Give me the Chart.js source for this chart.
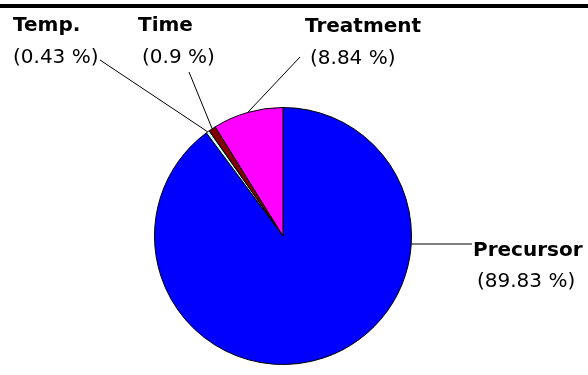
<!DOCTYPE html>
<html>
<head>
<meta charset="utf-8">
<script src="https://cdn.jsdelivr.net/npm/chart.js@4"></script>
<style>
  html, body { margin: 0; padding: 0; background: #fff; }
  #wrap { width: 588px; height: 375px; position: relative; }
</style>
</head>
<body>
<div id="wrap"><canvas id="canvas_pie" width="588" height="375"></canvas></div>
<script>
// slices in clockwise order starting at 12 o'clock
var categories = ['Precursor', 'Temp.', 'Time', 'Treatment'];
var shares = [89.83, 0.43, 0.9, 8.84];
var sliceColors = ['#0000ff', '#c8ffff', '#800000', '#ff00ff'];

// where each callout text sits: [x line1, x line2, baseline1, baseline2, leader start x, y, leader mode]
var callouts = {
    'Precursor': [473, 477, 256, 287, 472, 244, 'flat'],
    'Temp.':     [13, 13, 31, 63, 100, 60, 'mid'],
    'Time':      [138, 142, 31, 63, 189, 72, 'mid'],
    'Treatment': [305, 310, 32, 64, 300, 57, 'mid']
};

const calloutPlugin = {
    id: 'callouts',
    afterDraw(chart) {
        const c = chart.ctx;
        c.save();
        // thick rule along the top
        c.fillStyle = '#000';
        c.fillRect(0, 4, 588, 4);

        const meta = chart.getDatasetMeta(0);
        meta.data.forEach((arc, i) => {
            const name = categories[i];
            const co = callouts[name];
            const p = arc.getProps(['x', 'y', 'startAngle', 'endAngle', 'outerRadius'], true);
            let ex, ey;
            if (co[6] === 'flat') {
                // horizontal leader meeting the rim at the label's height
                ey = co[5];
                ex = p.x + Math.sqrt(Math.max(p.outerRadius * p.outerRadius - (ey - p.y) * (ey - p.y), 0));
            } else {
                const ang = (p.startAngle + p.endAngle) / 2;
                ex = p.x + Math.cos(ang) * p.outerRadius;
                ey = p.y + Math.sin(ang) * p.outerRadius;
            }

            c.strokeStyle = '#000';
            c.lineWidth = 1;
            c.beginPath();
            c.moveTo(co[4], co[5]);
            c.lineTo(ex, ey);
            c.stroke();

            c.fillStyle = '#000';
            c.textAlign = 'left';
            c.textBaseline = 'alphabetic';
            c.font = 'bold 20px "DejaVu Sans"';
            c.fillText(name, co[0], co[2]);
            c.font = '20px "DejaVu Sans"';
            c.fillText('(' + shares[i] + ' %)', co[1], co[3]);
        });
        c.restore();
    }
};

const ctx = document.getElementById('canvas_pie').getContext('2d');
var chart1 = new Chart(ctx, {
    type: 'pie',
    data: {
        labels: categories,
        datasets: [{
            data: shares,
            backgroundColor: sliceColors,
            borderColor: '#000',
            borderWidth: 1
        }]
    },
    options: {
        responsive: false,
        animation: false,
        layout: {
            padding: { left: 154, right: 176, top: 106, bottom: 9 }
        },
        plugins: {
            legend: { display: false },
            tooltip: { enabled: false }
        }
    },
    plugins: [calloutPlugin]
});
</script>
</body>
</html>
